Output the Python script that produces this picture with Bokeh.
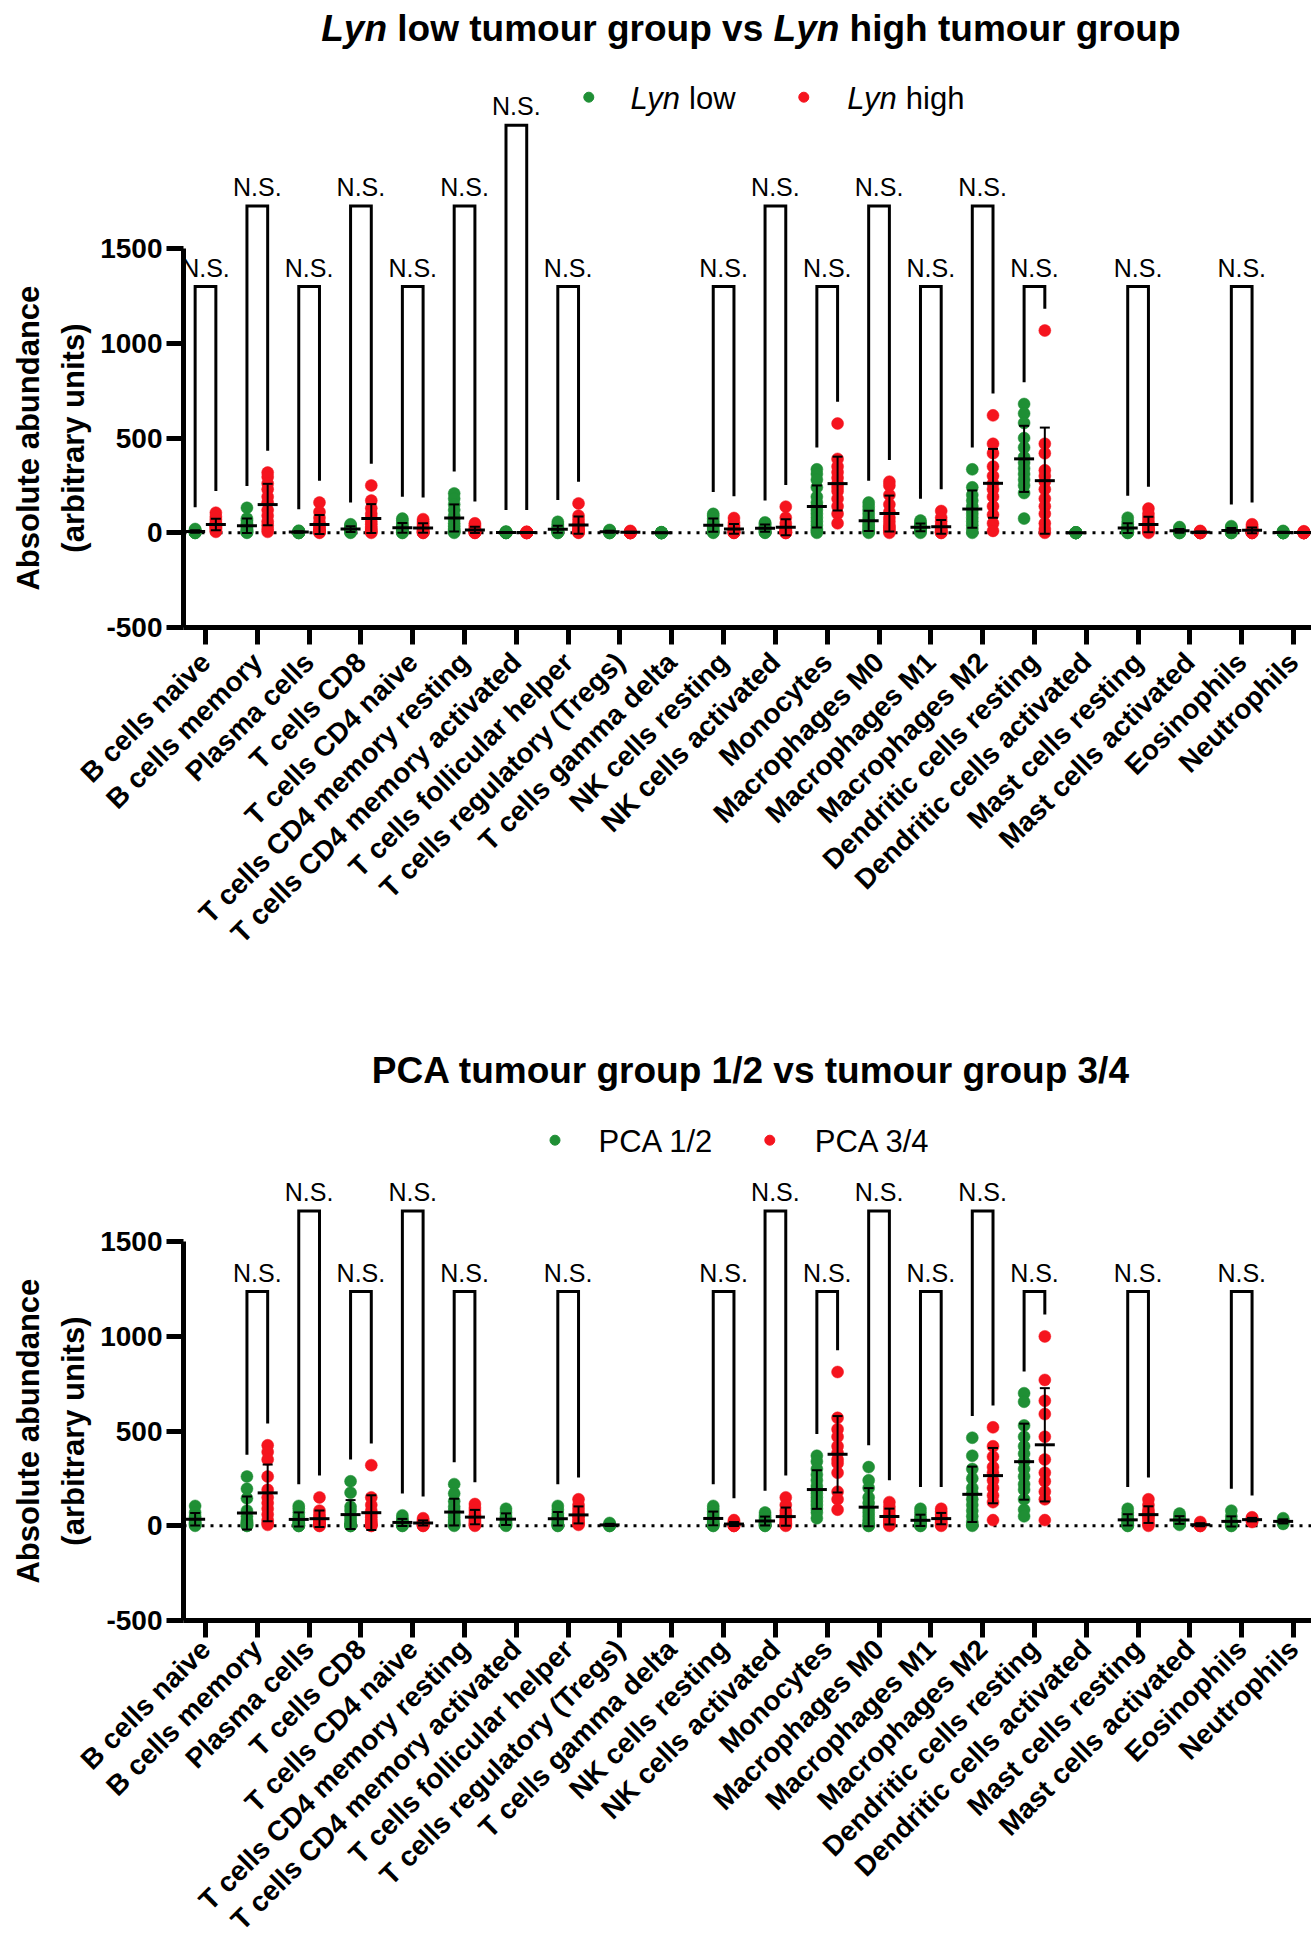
import math
import numpy as np
from bokeh.plotting import figure
from bokeh.models import (ColumnDataSource, FixedTicker, LinearAxis, Range1d, Span,
                          Whisker, TeeHead, Label, Title)
from bokeh.layouts import column
from bokeh.embed import file_html
from bokeh.resources import INLINE
from bokeh.core.properties import value

# ---------------------------------------------------------------- data
categories = [
    "B cells naive", "B cells memory", "Plasma cells", "T cells CD8",
    "T cells CD4 naive", "T cells CD4 memory resting", "T cells CD4 memory activated",
    "T cells follicular helper", "T cells regulatory (Tregs)", "T cells gamma delta",
    "NK cells resting", "NK cells activated", "Monocytes", "Macrophages M0",
    "Macrophages M1", "Macrophages M2", "Dendritic cells resting",
    "Dendritic cells activated", "Mast cells resting", "Mast cells activated",
    "Eosinophils", "Neutrophils",
]

y_ticks = [-500, 0, 500, 1000, 1500]
y_tick_labels = ["-500", "0", "500", "1000", "1500"]
y_title = ["Absolute abundance", "(arbitrary units)"]

# chart 1 : Lyn low vs Lyn high
lyn_low = [
    [0, 0, 0, 2, 3, 5, 5, 8, 10, 12, 15, 20],
    [132, 75, 65, 50, 40, 30, 20, 15, 10, 5, 3, 0],
    [0, 0, 0, 0, 2, 3, 4, 5, 6, 8, 10, 10],
    [45, 40, 35, 30, 25, 20, 15, 10, 8, 5, 3, 0],
    [75, 65, 50, 40, 30, 20, 15, 10, 5, 3, 0, 0],
    [208, 180, 150, 120, 90, 70, 50, 35, 20, 10, 5, 0],
    [0, 0, 0, 0, 1, 1, 2, 2, 3, 4, 5, 6],
    [58, 45, 35, 25, 20, 15, 10, 8, 5, 3, 0, 0],
    [15, 12, 10, 8, 5, 5, 3, 2, 0, 0, 0, 0],
    [3, 2, 1, 0, 0, 0, 0, 0, 0, 0, 0, 0],
    [100, 90, 75, 60, 50, 40, 30, 20, 10, 5, 3, 0],
    [55, 50, 45, 35, 30, 25, 20, 15, 10, 5, 2, 0],
    [335, 310, 280, 240, 190, 160, 140, 120, 100, 80, 60, 40, 20, 10, 0],
    [160, 140, 120, 100, 80, 65, 50, 40, 30, 20, 10, 5, 0],
    [65, 55, 45, 40, 35, 30, 25, 20, 15, 10, 5, 0],
    [335, 240, 200, 170, 140, 120, 100, 80, 60, 40, 20, 0],
    [680, 630, 580, 500, 450, 400, 370, 340, 310, 280, 250, 210, 75],
    [2, 1, 0, 0, 0, 0, 0, 0, 0, 0, 0, 0],
    [80, 60, 45, 35, 25, 20, 15, 10, 5, 3, 0, 0],
    [30, 25, 20, 15, 10, 10, 5, 5, 3, 0, 0, 0],
    [35, 30, 25, 20, 15, 10, 8, 5, 3, 0, 0, 0],
    [10, 8, 5, 3, 0, 0, 0, 0, 0, 0, 0, 0],
]
lyn_high = [
    [106, 85, 70, 55, 45, 40, 35, 30, 25, 20, 10, 5],
    [318, 295, 260, 230, 190, 160, 120, 90, 60, 40, 20, 5],
    [160, 110, 80, 55, 40, 30, 20, 15, 10, 5, 3, 0],
    [250, 170, 130, 100, 80, 60, 45, 30, 20, 10, 5, 0],
    [72, 60, 50, 40, 30, 20, 15, 10, 5, 3, 0, 0],
    [50, 40, 30, 20, 15, 10, 8, 5, 3, 2, 0, 0],
    [5, 4, 3, 2, 2, 1, 1, 0, 0, 0, 0, 0],
    [155, 90, 70, 50, 40, 30, 20, 15, 10, 5, 2, 0],
    [10, 8, 5, 3, 2, 0, 0, 0, 0, 0, 0, 0],
    [],
    [78, 55, 40, 30, 20, 10, 5, 5, 3, 2, 0, 0],
    [138, 80, 50, 30, 20, 15, 10, 5, 3, 0, 0, 0],
    [577, 390, 350, 320, 290, 260, 240, 220, 180, 140, 100, 50],
    [270, 250, 200, 150, 110, 80, 60, 40, 30, 20, 10, 0],
    [115, 80, 60, 40, 30, 20, 15, 10, 5, 3, 0, 0],
    [620, 470, 420, 350, 300, 260, 230, 190, 140, 95, 50, 10],
    [1068, 470, 420, 330, 300, 270, 230, 180, 140, 100, 50, 20, 0],
    [],
    [128, 100, 80, 60, 45, 35, 25, 20, 15, 10, 5, 0],
    [10, 8, 5, 5, 3, 2, 0, 0, 0, 0, 0, 0],
    [45, 35, 25, 20, 15, 10, 5, 3, 0, 0, 0, 0],
    [8, 5, 3, 0, 0, 0, 0, 0, 0, 0, 0, 0],
]
lyn_bracket_level = [1, 2, 1, 2, 1, 2, 3, 1, 0, 0, 1, 2, 1, 2, 1, 2, 1, 0, 1, 0, 1, 0]
lyn_level_heights = [1300, 1726, 2152]

# chart 2 : PCA 1/2 vs PCA 3/4
pca_12 = [
    [105, 70, 50, 40, 30, 20, 15, 10, 5, 0],
    [260, 195, 145, 80, 50, 30, 20, 15, 10, 5, 0, 0],
    [105, 90, 70, 50, 35, 25, 15, 10, 5, 0, 0, 0],
    [235, 175, 100, 80, 50, 35, 20, 10, 5, 0, 0, 0],
    [55, 40, 30, 20, 15, 10, 5, 3, 0, 0],
    [220, 170, 130, 100, 80, 60, 45, 30, 20, 10, 5, 0],
    [90, 70, 50, 40, 30, 20, 10, 5, 0],
    [105, 85, 65, 50, 40, 30, 20, 10, 5, 0, 0],
    [15, 10, 5, 3, 0, 0, 0],
    [],
    [105, 90, 75, 60, 45, 35, 25, 15, 10, 5, 0, 0],
    [70, 55, 45, 35, 25, 20, 15, 10, 5, 0, 0],
    [370, 340, 300, 270, 240, 210, 190, 170, 150, 130, 110, 90, 70, 40],
    [310, 240, 200, 150, 120, 90, 70, 50, 30, 15, 5, 0, 0],
    [90, 70, 50, 35, 25, 20, 15, 10, 5, 0, 0],
    [465, 370, 300, 250, 200, 170, 140, 110, 80, 50, 20, 5, 0],
    [700, 655, 530, 470, 420, 380, 340, 300, 260, 220, 190, 140, 85, 50],
    [],
    [90, 70, 55, 40, 30, 25, 20, 10, 5, 0, 0],
    [65, 50, 40, 30, 25, 20, 10, 5],
    [80, 50, 30, 20, 15, 10, 5, 0, 0],
    [40, 30, 25, 20, 15, 10],
]
pca_34 = [
    [],
    [425, 390, 350, 260, 190, 150, 120, 90, 60, 30, 15, 5],
    [150, 80, 60, 45, 35, 30, 20, 15, 10, 5, 0, 0],
    [320, 150, 110, 80, 60, 45, 30, 20, 10, 5, 0, 0],
    [40, 30, 25, 20, 15, 10, 5, 3, 0, 0],
    [115, 95, 80, 60, 50, 40, 30, 20, 10, 5, 0],
    [],
    [140, 110, 90, 70, 55, 45, 30, 20, 10, 5],
    [],
    [],
    [30, 20, 15, 10, 5, 3, 0, 0, 0],
    [150, 110, 80, 60, 45, 35, 25, 15, 10, 5, 0],
    [812, 570, 510, 470, 420, 385, 350, 330, 280, 180, 140, 85],
    [125, 100, 80, 60, 45, 35, 25, 15, 5, 0],
    [90, 75, 60, 45, 40, 30, 20, 15, 5, 0],
    [520, 420, 365, 310, 280, 240, 200, 160, 125, 30],
    [1000, 770, 660, 590, 470, 350, 280, 235, 180, 140, 30],
    [],
    [140, 110, 85, 70, 60, 50, 40, 25, 10, 0],
    [20, 10, 5, 0, 0, 0],
    [45, 40, 35, 30, 25, 20],
    [],
]
pca_bracket_level = [0, 1, 2, 1, 2, 1, 0, 1, 0, 0, 1, 2, 1, 2, 1, 2, 1, 0, 1, 0, 1, 0]
pca_level_heights = [1237, 1662]

# ---------------------------------------------------------------- styling / layout
FONT = "Liberation Sans"
NARROW = "'Liberation Sans Narrow', 'Arial Narrow', 'Liberation Sans'"
GREEN = "#1f8f35"
RED = "#f5141e"
LEFT = 183          # canvas px of the y axis
FRAME_W = 1311 - LEFT
PX_X = 51.81        # px per category
PX_Y = 0.1894       # px per unit
TICK0 = 22          # px from y axis to the first category
OFF = 0.2           # group offset (category units)
LEG_GAP = 115       # bracket leg gap above the highest point (units)

BOLD_W = {' ': .278, 'a': .556, 'b': .611, 'c': .556, 'd': .611, 'e': .556, 'g': .611,
          'h': .611, 'i': .278, 'l': .278, 'm': .889, 'n': .611, 'o': .611, 'p': .611,
          'r': .389, 's': .556, 't': .333, 'u': .611, 'v': .556, 'w': .778, 'y': .556,
          'L': .611, 'P': .667, 'C': .722, 'A': .722, '1': .556, '2': .556, '3': .556,
          '4': .556, '/': .278, '(': .333, ')': .333}
REG_W = {' ': .278, 'L': .556, 'y': .5, 'n': .556, 'l': .222, 'o': .556, 'w': .722,
         'h': .556, 'i': .222, 'g': .556, 'P': .667, 'C': .722, 'A': .667, '1': .556,
         '2': .556, '3': .556, '4': .556, '/': .278}


def tw(s, table, size):
    return sum(table[c] for c in s) * size


def make_chart(title_parts, title_mid, title_cx, legend_items, legend_mid, legend_dot_y,
               low, high, bracket_level, level_heights, frame_h, min_bottom, lab_standoff):
    x0 = -TICK0 / PX_X
    x1 = x0 + FRAME_W / PX_X
    y0 = -500
    y1 = y0 + frame_h / PX_Y

    def dx(cx):
        return x0 + (cx - LEFT) / PX_X

    def dy(cy):
        return y1 - cy / PX_Y

    p = figure(frame_width=FRAME_W, frame_height=frame_h,
               x_range=Range1d(x0, x1), y_range=Range1d(y0, y1),
               x_axis_type=None, y_axis_type=None, toolbar_location=None,
               output_backend="svg", min_border_left=LEFT, min_border_right=0,
               min_border_top=0, min_border_bottom=min_bottom)
    p.outline_line_color = None
    p.background_fill_color = "white"
    p.border_fill_color = "white"

    yaxis = LinearAxis(ticker=FixedTicker(ticks=y_ticks, minor_ticks=[]),
                       bounds=(y_ticks[0], y_ticks[-1]))
    yaxis.major_label_overrides = dict(zip(y_ticks, y_tick_labels))
    yaxis.axis_line_width = 5
    yaxis.major_tick_line_width = 5
    yaxis.major_tick_out = 17
    yaxis.major_tick_in = 0
    yaxis.major_label_standoff = 4
    yaxis.major_label_text_font = FONT
    yaxis.major_label_text_font_size = "28px"
    yaxis.major_label_text_font_style = "bold"
    yaxis.major_label_text_color = "black"
    p.add_layout(yaxis, "left")

    # y-axis title: two lines, centred on the drawn part of the axis (-500 .. 1500)
    axis_mid_px = (y_ticks[-1] - y_ticks[0]) / 2 * PX_Y   # px above frame bottom
    for line, standoff in zip(reversed(y_title), (14, 2)):
        length = tw(line, BOLD_W, 31)
        p.add_layout(Title(text=line, align="left", offset=axis_mid_px - length / 2,
                           standoff=standoff, text_font=FONT, text_font_size="31px",
                           text_font_style="bold", text_color="black"), "left")

    xaxis = LinearAxis(ticker=FixedTicker(ticks=list(range(len(categories))), minor_ticks=[]))
    xaxis.major_label_overrides = {i: c for i, c in enumerate(categories)}
    xaxis.major_label_orientation = math.pi / 4
    xaxis.axis_line_width = 5
    xaxis.major_tick_line_width = 5
    xaxis.major_tick_out = 17
    xaxis.major_tick_in = 0
    xaxis.major_label_standoff = lab_standoff
    xaxis.major_label_text_font = FONT
    xaxis.major_label_text_font_size = "28px"
    xaxis.major_label_text_font_style = "bold"
    xaxis.major_label_text_color = "black"
    p.add_layout(xaxis, "below")

    # zero line
    p.add_layout(Span(location=0, dimension="width", line_color="black",
                      line_width=3, line_dash="3 6", level="underlay"))

    # points
    for groups, color, sgn in ((low, GREEN, -1), (high, RED, 1)):
        xs, ys = [], []
        for i, vals in enumerate(groups):
            xs += [i + sgn * OFF] * len(vals)
            ys += list(vals)
        p.scatter(xs, ys, size=12, fill_color=color, line_color=color, line_width=0.5)

    # mean and SD
    mx, my, lo, up = [], [], [], []
    for groups, sgn in ((low, -1), (high, 1)):
        for i, vals in enumerate(groups):
            if len(vals) == 0:
                continue
            a = np.array(vals, dtype=float)
            m = a.mean()
            s = a.std(ddof=1) if len(a) > 1 else 0.0
            mx.append(i + sgn * OFF)
            my.append(m)
            lo.append(m - s)
            up.append(m + s)
    p.scatter(mx, my, marker="dash", size=20, line_width=3, line_color="black")
    wsrc = ColumnDataSource(dict(base=mx, lower=lo, upper=up))
    p.add_layout(Whisker(source=wsrc, base="base", lower="lower", upper="upper",
                         dimension="height", line_width=2, line_color="black",
                         level="annotation",
                         upper_head=TeeHead(size=10, line_width=2, line_color="black"),
                         lower_head=TeeHead(size=10, line_width=2, line_color="black")))

    # significance brackets
    bxs, bys, tx, ty = [], [], [], []
    for i, lv in enumerate(bracket_level):
        if lv == 0 or len(low[i]) == 0 or len(high[i]) == 0:
            continue
        top = level_heights[lv - 1]
        bxs.append([i - OFF, i - OFF, i + OFF, i + OFF])
        bys.append([max(low[i]) + LEG_GAP, top, top, max(high[i]) + LEG_GAP])
        tx.append(i)
        ty.append(top + 19 / PX_Y)
    p.multi_line(bxs, bys, line_color="black", line_width=3, line_join="miter")
    p.text(tx, ty, text=["N.S."] * len(tx), text_font=value(NARROW),
           text_font_size="25px", text_align="center", text_baseline="middle",
           text_color="black")

    # title (pieces so that italic words can be mixed with bold text)
    sp = tw(" ", BOLD_W, 37)
    widths = [tw(txt, BOLD_W, 37) for txt, _ in title_parts]
    total = sum(widths) + sp * (len(title_parts) - 1)
    cx = title_cx - total / 2
    for (txt, style), w in zip(title_parts, widths):
        p.add_layout(Label(x=dx(cx), y=dy(title_mid), text=txt, text_font=FONT,
                           text_font_size="37px", text_font_style=style,
                           text_align="left", text_baseline="middle",
                           text_color="black"))
        cx += w + sp

    # legend
    for dot_cx, text_cx, color, parts in legend_items:
        p.scatter([dx(dot_cx)], [dy(legend_dot_y)], size=10, fill_color=color,
                  line_color=color)
        cx = text_cx
        for txt, style in parts:
            p.add_layout(Label(x=dx(cx), y=dy(legend_mid), text=txt, text_font=FONT,
                               text_font_size="31px", text_font_style=style,
                               text_align="left", text_baseline="middle",
                               text_color="black"))
            cx += tw(txt, REG_W, 31) + tw(" ", REG_W, 31)
    return p


FIG1_H = 1027
p1 = make_chart(
    title_parts=[("Lyn", "bold italic"), ("low tumour group vs", "bold"),
                 ("Lyn", "bold italic"), ("high tumour group", "bold")],
    title_mid=27.5, title_cx=750.4,
    legend_items=[(588.3, 630, GREEN, [("Lyn", "italic"), ("low", "normal")]),
                  (803.3, 846.7, RED, [("Lyn", "italic"), ("high", "normal")])],
    legend_mid=97.5, legend_dot_y=96.7,
    low=lyn_low, high=lyn_high, bracket_level=lyn_bracket_level,
    level_heights=lyn_level_heights, frame_h=627, min_bottom=FIG1_H - 627,
    lab_standoff=13)

p2 = make_chart(
    title_parts=[("PCA tumour group 1/2 vs tumour group 3/4", "bold")],
    title_mid=1070 - FIG1_H, title_cx=750.6,
    legend_items=[(554.5, 598, GREEN, [("PCA 1/2", "normal")]),
                  (769.3, 814.3, RED, [("PCA 3/4", "normal")])],
    legend_mid=1140.6 - FIG1_H, legend_dot_y=1139.7 - FIG1_H,
    low=pca_12, high=pca_34, bracket_level=pca_bracket_level,
    level_heights=pca_level_heights, frame_h=1620 - FIG1_H, min_bottom=0,
    lab_standoff=7)

layout = column(p1, p2, spacing=0)
open("out.html", "w").write(file_html(layout, INLINE))
